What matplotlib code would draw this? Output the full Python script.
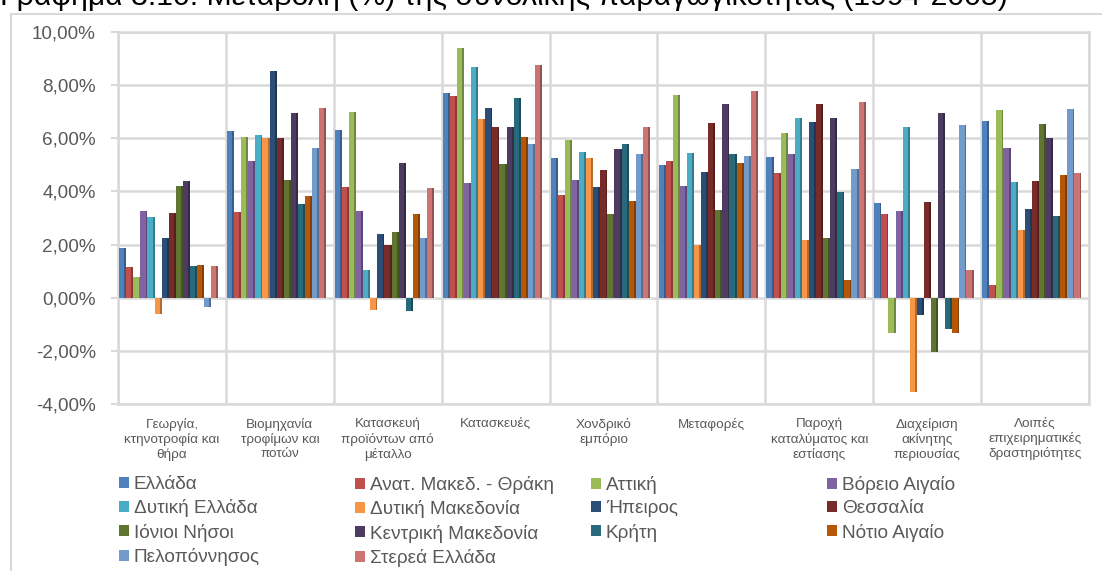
import numpy as np
import matplotlib
matplotlib.use("Agg")
import matplotlib.pyplot as plt
import matplotlib.colors as mcolors
from matplotlib.patches import Patch, Rectangle
from matplotlib.transforms import ScaledTranslation

plt.rcParams['font.family'] = ['Liberation Sans', 'DejaVu Sans']

# κατηγορίες (άξονας x)
kladoi = ['Γεωργία,\nκτηνοτροφία και\nθήρα', 'Βιομηχανία\nτροφίμων και\nποτών',
          'Κατασκευή\nπροϊόντων από\nμέταλλο', 'Κατασκευές', 'Χονδρικό\nεμπόριο',
          'Μεταφορές', 'Παροχή\nκαταλύματος και\nεστίασης', 'Διαχείριση\nακίνητης\nπεριουσίας',
          'Λοιπές\nεπιχειρηματικές\nδραστηριότητες']

# μεταβολή (%) ανά περιφέρεια
ellada = [1.88, 6.28, 6.31, 7.71, 5.25, 5.00, 5.28, 3.58, 6.66]
anat_makedonia = [1.16, 3.21, 4.15, 7.60, 3.88, 5.13, 4.69, 3.15, 0.48]
attiki = [0.79, 6.03, 6.98, 9.38, 5.93, 7.63, 6.21, -1.31, 7.06]
voreio_aigaio = [3.25, 5.16, 3.28, 4.30, 4.43, 4.21, 5.40, 3.25, 5.63]
dytiki_ellada = [3.04, 6.11, 1.06, 8.70, 5.50, 5.44, 6.75, 6.44, 4.35]
dytiki_makedonia = [-0.61, 6.00, -0.46, 6.71, 5.25, 1.98, 2.19, -3.56, 2.53]
ipeiros = [2.25, 8.53, 2.41, 7.15, 4.16, 4.73, 6.60, -0.65, 3.35]
thessalia = [3.19, 6.00, 1.98, 6.41, 4.79, 6.56, 7.28, 3.59, 4.41]
ionioi_nisoi = [4.19, 4.44, 2.46, 5.03, 3.15, 3.31, 2.25, -2.06, 6.55]
kentriki_makedonia = [4.41, 6.96, 5.06, 6.44, 5.58, 7.30, 6.75, 6.96, 6.00]
kriti = [1.19, 3.53, -0.49, 7.53, 5.80, 5.41, 3.96, -1.16, 3.09]
notio_aigaio = [1.25, 3.81, 3.16, 6.03, 3.63, 5.06, 0.65, -1.34, 4.63]
peloponnisos = [-0.34, 5.65, 2.24, 5.78, 5.41, 5.33, 4.85, 6.50, 7.10]
sterea_ellada = [1.21, 7.13, 4.13, 8.75, 6.43, 7.78, 7.38, 1.04, 4.69]

perifereies = ['Ελλάδα', 'Ανατ. Μακεδ. - Θράκη', 'Αττική', 'Βόρειο Αιγαίο',
               'Δυτική Ελλάδα', 'Δυτική Μακεδονία', 'Ήπειρος', 'Θεσσαλία',
               'Ιόνιοι Νήσοι', 'Κεντρική Μακεδονία', 'Κρήτη', 'Νότιο Αιγαίο',
               'Πελοπόννησος', 'Στερεά Ελλάδα']
seires = [ellada, anat_makedonia, attiki, voreio_aigaio, dytiki_ellada, dytiki_makedonia,
          ipeiros, thessalia, ionioi_nisoi, kentriki_makedonia, kriti, notio_aigaio,
          peloponnisos, sterea_ellada]

xromata = ['#4F81BD', '#C0504D', '#9BBB59', '#8064A2', '#4BACC6', '#F79646', '#2C4D75',
           '#772C2A', '#5F7530', '#4D3B62', '#276A7C', '#B65708', '#729ACA', '#CD7371']

y_ticks = [-4, -2, 0, 2, 4, 6, 8, 10]
y_labels = ['-4,00%', '-2,00%', '0,00%', '2,00%', '4,00%', '6,00%', '8,00%', '10,00%']

grkolor = '#D9D9D9'
keimeno = '#595959'

fig = plt.figure(figsize=(11.02, 5.71), dpi=100)
ax = fig.add_axes([118/1102, 1 - 404/571, (1089 - 118)/1102, (404 - 32)/571])

x = np.arange(len(kladoi))
w = 0.92 / len(seires)
for j, (vals, c) in enumerate(zip(seires, xromata)):
    left = x - 0.49 + j * w
    skoteino = tuple(v * 0.72 for v in mcolors.to_rgb(c))
    # μπροστινή πλευρά + σκούρα πλαϊνή (ψευδο-3D)
    ax.bar(left, vals, width=w * 0.74, align='edge', color=c, zorder=3)
    ax.bar(left + w * 0.74, vals, width=w * 0.26, align='edge', color=skoteino, zorder=3)

ax.set_xlim(-0.5, len(kladoi) - 0.5)
ax.set_ylim(-4, 10)
ax.set_yticks(y_ticks)
ax.set_yticklabels(y_labels, fontsize=13.6, color=keimeno)
# οι ετικέτες του y λίγο πιο κάτω, όπως στο 3D του Excel
for lab in ax.get_yticklabels():
    lab.set_transform(lab.get_transform() + ScaledTranslation(0, -4/100, fig.dpi_scale_trans))
ax.set_xticks(x)
ax.set_xticklabels(kladoi, fontsize=9.7, color=keimeno, linespacing=1.22)
ax.set_xticks(np.arange(len(kladoi) + 1) - 0.5, minor=True)
ax.tick_params(axis='x', which='both', length=0, pad=10)
ax.tick_params(axis='y', length=5, color=grkolor, width=1.5, pad=11)
ax.grid(axis='y', color=grkolor, linewidth=1.8, zorder=0)
ax.grid(axis='x', which='minor', color=grkolor, linewidth=1.8, zorder=0)
for s in ax.spines.values():
    s.set_color(grkolor)
    s.set_linewidth(1.8)

# υπόμνημα: 4 στήλες, γέμισμα κατά γραμμές
stiles_x = [119, 355, 591, 827]
for k in range(4):
    idx = list(range(k, len(seires), 4))
    handles = [Patch(facecolor=xromata[i], edgecolor='none') for i in idx]
    labels = [perifereies[i] for i in idx]
    fig.legend(handles, labels, loc='upper left',
               bbox_to_anchor=(stiles_x[k] / 1102, 1 - 476 / 571),
               frameon=False, fontsize=13.7, labelcolor=keimeno,
               handlelength=0.52, handleheight=0.52, handletextpad=0.25,
               labelspacing=0.33, borderpad=0, borderaxespad=0)

# πλαίσιο γραφήματος
fig.add_artist(Rectangle((11 / 1102, -0.05), 1.2, 1.05 - 14 / 571, transform=fig.transFigure,
                         fill=False, edgecolor=grkolor, linewidth=1.5))

# τίτλος (κομμένος στο πάνω μέρος)
fig.text(0.0, 1 - 5 / 571, 'Γράφημα 3.10: Μεταβολή (%) της συνολικής παραγωγικότητας (1994-2005)',
         fontsize=21.8, va='baseline', ha='left', color='black')

fig.savefig('out.png', dpi=100)
